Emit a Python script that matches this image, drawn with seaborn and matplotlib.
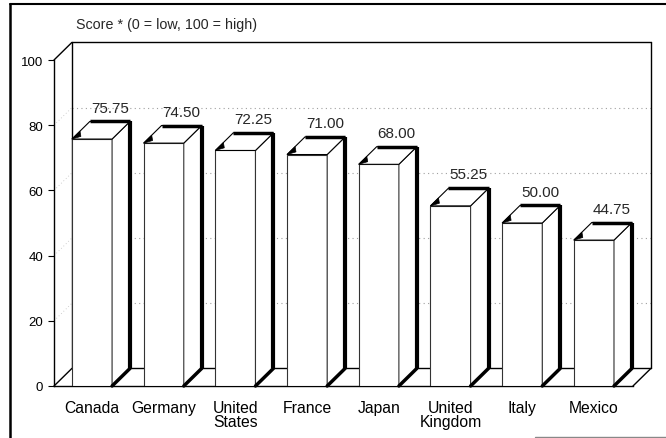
import matplotlib
matplotlib.use('Agg')
import matplotlib.pyplot as plt
from matplotlib.patches import Polygon
from matplotlib.lines import Line2D
import seaborn as sns
import pandas as pd

countries = ['Canada', 'Germany', 'United\nStates', 'France', 'Japan',
             'United\nKingdom', 'Italy', 'Mexico']
scores = [75.75, 74.50, 72.25, 71.00, 68.00, 55.25, 50.00, 44.75]
y_ticks = [0, 20, 40, 60, 80, 100]
title = 'Score * (0 = low, 100 = high)'

sns.set_style('white')
plt.rcParams['font.family'] = ['Liberation Sans', 'DejaVu Sans']

fig = plt.figure(figsize=(6.66, 4.39), dpi=100)
ax = fig.add_axes([54 / 666, 52 / 439, 579 / 666, 326 / 439])

df = pd.DataFrame({'country': countries, 'score': scores})
sns.barplot(data=df, x='country', y='score', color='white', saturation=1,
            edgecolor='#333333', linewidth=0.8, width=0.56, errorbar=None,
            ax=ax, zorder=3)

x_lo, x_hi = -0.53, 7.545
ax.set_xlim(x_lo, x_hi)
ax.set_ylim(0, 100)

# depth of the fake 3d box, in data units
dx, dy = 0.25, 5.4
xb0, xb1 = x_lo + dx, x_hi + dx

# back wall, side wall and floor
wall = dict(color='black', lw=1, clip_on=False, zorder=1)
ax.plot([x_lo, xb0], [100, 100 + dy], **wall)
ax.plot([xb0, xb1], [100 + dy] * 2, **wall)
ax.plot([xb0, xb0], [dy, 100 + dy], **wall)
ax.plot([xb1, xb1], [dy, 100 + dy], **wall)
ax.plot([xb0, xb1], [dy, dy], **wall)
ax.plot([x_lo, xb0], [0, dy], **wall)
ax.plot([x_hi, xb1], [0, dy], **wall)

# dotted gridlines on the back wall and the side wall
for v in y_ticks[1:-1]:
    ax.plot([xb0, xb1], [v + dy] * 2, color='#a0a0a0', lw=0.8,
            ls=(0, (1, 3)), zorder=0.5, clip_on=False)
    ax.plot([x_lo, xb0], [v, v + dy], color='#c0c0c0', lw=0.6,
            ls=(0, (1, 3)), zorder=0.5, clip_on=False)

# top and side faces for each bar
for p, v in zip(ax.patches, scores):
    x0 = p.get_x()
    x1 = x0 + p.get_width()
    h = p.get_height()
    top = Polygon([(x0, h), (x1, h), (x1 + dx, h + dy), (x0 + dx, h + dy)],
                  closed=True, facecolor='white', edgecolor='black', lw=0.8,
                  zorder=4, clip_on=False)
    side = Polygon([(x1, 0), (x1 + dx, dy), (x1 + dx, h + dy), (x1, h)],
                   closed=True, facecolor='white', edgecolor='#333333', lw=0.8,
                   zorder=4, clip_on=False)
    ax.add_patch(side)
    ax.add_patch(top)
    ax.plot([x0 + dx, x1 + dx], [h + dy] * 2, color='black', lw=2.5,
            solid_capstyle='butt', zorder=5, clip_on=False)
    ax.plot([x1 + dx, x1 + dx], [dy, h + dy], color='black', lw=3,
            solid_capstyle='butt', zorder=5, clip_on=False)
    ax.plot([x1, x1 + dx], [0, dy], color='black', lw=2.5, zorder=5,
            clip_on=False)
    tri = Polygon([(x0, h), (x0 + 0.45 * dx, h + 0.45 * dy),
                   (x0 + 0.5 * dx, h + 0.15 * dy)],
                  closed=True, facecolor='black', edgecolor='black', lw=0.5,
                  zorder=5, clip_on=False)
    ax.add_patch(tri)
    ax.text(x0 + p.get_width() / 2 + dx, h + dy + 2.1, f'{v:.2f}',
            ha='center', va='bottom', fontsize=11, zorder=6)

ax.spines[['top', 'right']].set_visible(False)
for s in ['left', 'bottom']:
    ax.spines[s].set_color('black')
    ax.spines[s].set_linewidth(1)
    ax.spines[s].set_zorder(2)
ax.set_yticks(y_ticks)
ax.tick_params(axis='y', left=True, length=4.3, width=0.8, pad=3.6,
               labelsize=9.5, colors='black')
ax.tick_params(axis='x', bottom=False, pad=6.5, labelsize=11.3,
               colors='black')
for lab in ax.get_xticklabels():
    lab.set_linespacing(0.9)
ax.set_xlabel('')
ax.set_ylabel('')

fig.text(76 / 666, 1 - 25 / 439, title, fontsize=10.3, va='center', ha='left')

# scanned page frame
fig.add_artist(Line2D([10 / 666, 10 / 666], [0, 1 - 5 / 439], color='black', lw=1.8))
fig.add_artist(Line2D([10 / 666, 1], [1 - 5 / 439] * 2, color='black', lw=1.5))
fig.add_artist(Line2D([535 / 666, 1], [1.5 / 439] * 2, color='#888888', lw=1))

fig.savefig('out.png', dpi=100)
